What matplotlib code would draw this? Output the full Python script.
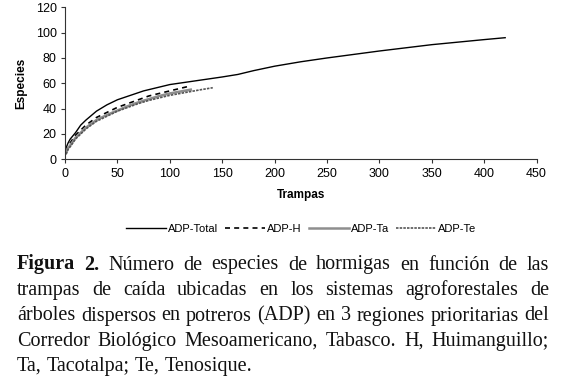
import matplotlib.pyplot as plt

# curvas de acumulacion de especies
trampas_total = [1, 3, 5, 10, 15, 20, 30, 40, 50, 75, 100, 125, 150, 165, 180, 200, 225, 250, 300, 350, 400, 420]
especies_total = [9, 13, 16, 21, 27, 31, 38, 43, 47, 54, 59, 62, 65, 67, 70, 73.5, 77, 80, 85.5, 90.5, 94.5, 96]

trampas_h = [1, 3, 5, 10, 20, 30, 40, 50, 60, 70, 80, 90, 100, 110, 120]
especies_h = [6, 10, 13, 19, 27, 33, 37, 41, 44, 47, 50, 52, 54, 56, 58]

trampas_ta = [1, 3, 5, 10, 20, 30, 40, 50, 60, 70, 80, 90, 100, 110, 120]
especies_ta = [5, 9, 11, 17, 25, 31, 35, 38.5, 42, 45, 47.5, 50, 52, 53.5, 55]

trampas_te = [1, 3, 5, 10, 20, 30, 40, 50, 60, 70, 80, 90, 100, 110, 120, 130, 141]
especies_te = [4, 8, 10, 16, 24, 30, 34, 38, 41, 44, 46.5, 48.5, 50.5, 52, 53.5, 55, 56.5]

xticks = list(range(0, 451, 50))
yticks = list(range(0, 121, 20))

caption = [
    [("Figura", "bold"), ("2.", "bold"), "Número", "de", "especies", "de", "hormigas", "en", "función", "de", "las"],
    "trampas de caída ubicadas en los sistemas agroforestales de".split(),
    "árboles dispersos en potreros (ADP) en 3 regiones prioritarias del".split(),
    "Corredor Biológico Mesoamericano, Tabasco. H, Huimanguillo;".split(),
    "Ta, Tacotalpa; Te, Tenosique.".split(),
]

W, H = 565, 380
fig = plt.figure(figsize=(W / 100, H / 100), dpi=100)
ax = fig.add_axes([65 / W, 1 - 159.3 / H, (536.6 - 65) / W, (159.3 - 7.3) / H])

ax.plot(trampas_total, especies_total, color='black', lw=1.0, label='ADP-Total')
ax.plot(trampas_h, especies_h, color='black', lw=1.2, ls=(0, (3, 2.5)), label='ADP-H')
ax.plot(trampas_ta, especies_ta, color='#8e8e8e', lw=1.8, label='ADP-Ta')
ax.plot(trampas_te, especies_te, color='#555555', lw=1.2, ls=(0, (1.5, 0.7)), label='ADP-Te')

ax.set_xlim(0, 450)
ax.set_ylim(0, 120)
ax.set_xticks(xticks)
ax.set_yticks(yticks)
for s in ['top', 'right']:
    ax.spines[s].set_visible(False)
for s in ['left', 'bottom']:
    ax.spines[s].set_color('#333333')
    ax.spines[s].set_linewidth(0.8)
ax.tick_params(direction='out', length=3, width=0.8, color='#333333', labelsize=9, pad=3)
for lab in ax.get_xticklabels() + ax.get_yticklabels():
    lab.set_family('Liberation Sans')
ax.set_xlabel('Trampas', fontsize=8.5, fontweight='bold', family='Liberation Sans', labelpad=7)
ax.set_ylabel('Especies', fontsize=8.5, fontweight='bold', family='Liberation Sans', labelpad=6)

leg = ax.legend(loc='center', bbox_to_anchor=(0.533, (380 - 229) / H), bbox_transform=fig.transFigure,
                ncol=4, frameon=False, handlelength=3.6, handletextpad=0.2, columnspacing=0.6,
                prop={'family': 'Liberation Sans', 'size': 8})

# pie de figura, justificado
renderer = fig.canvas.get_renderer()
left, right = 17, 549
baselines = [269.5, 295, 320.5, 346, 371]
for i, words in enumerate(caption):
    texts = []
    for w in words:
        if isinstance(w, tuple):
            w, wt = w
        else:
            wt = 'normal'
        texts.append(fig.text(0, 1 - baselines[i] / H, w, fontsize=14.5, family='Liberation Serif',
                              weight=wt, va='baseline', ha='left', color='#111111'))
    widths = [t.get_window_extent(renderer).width for t in texts]
    if i == len(caption) - 1:
        gap = 5
    else:
        gap = (right - left - sum(widths)) / (len(texts) - 1)
    x = left
    for t, w in zip(texts, widths):
        t.set_x(x / W)
        x += w + gap

fig.savefig('out.png', dpi=100)
